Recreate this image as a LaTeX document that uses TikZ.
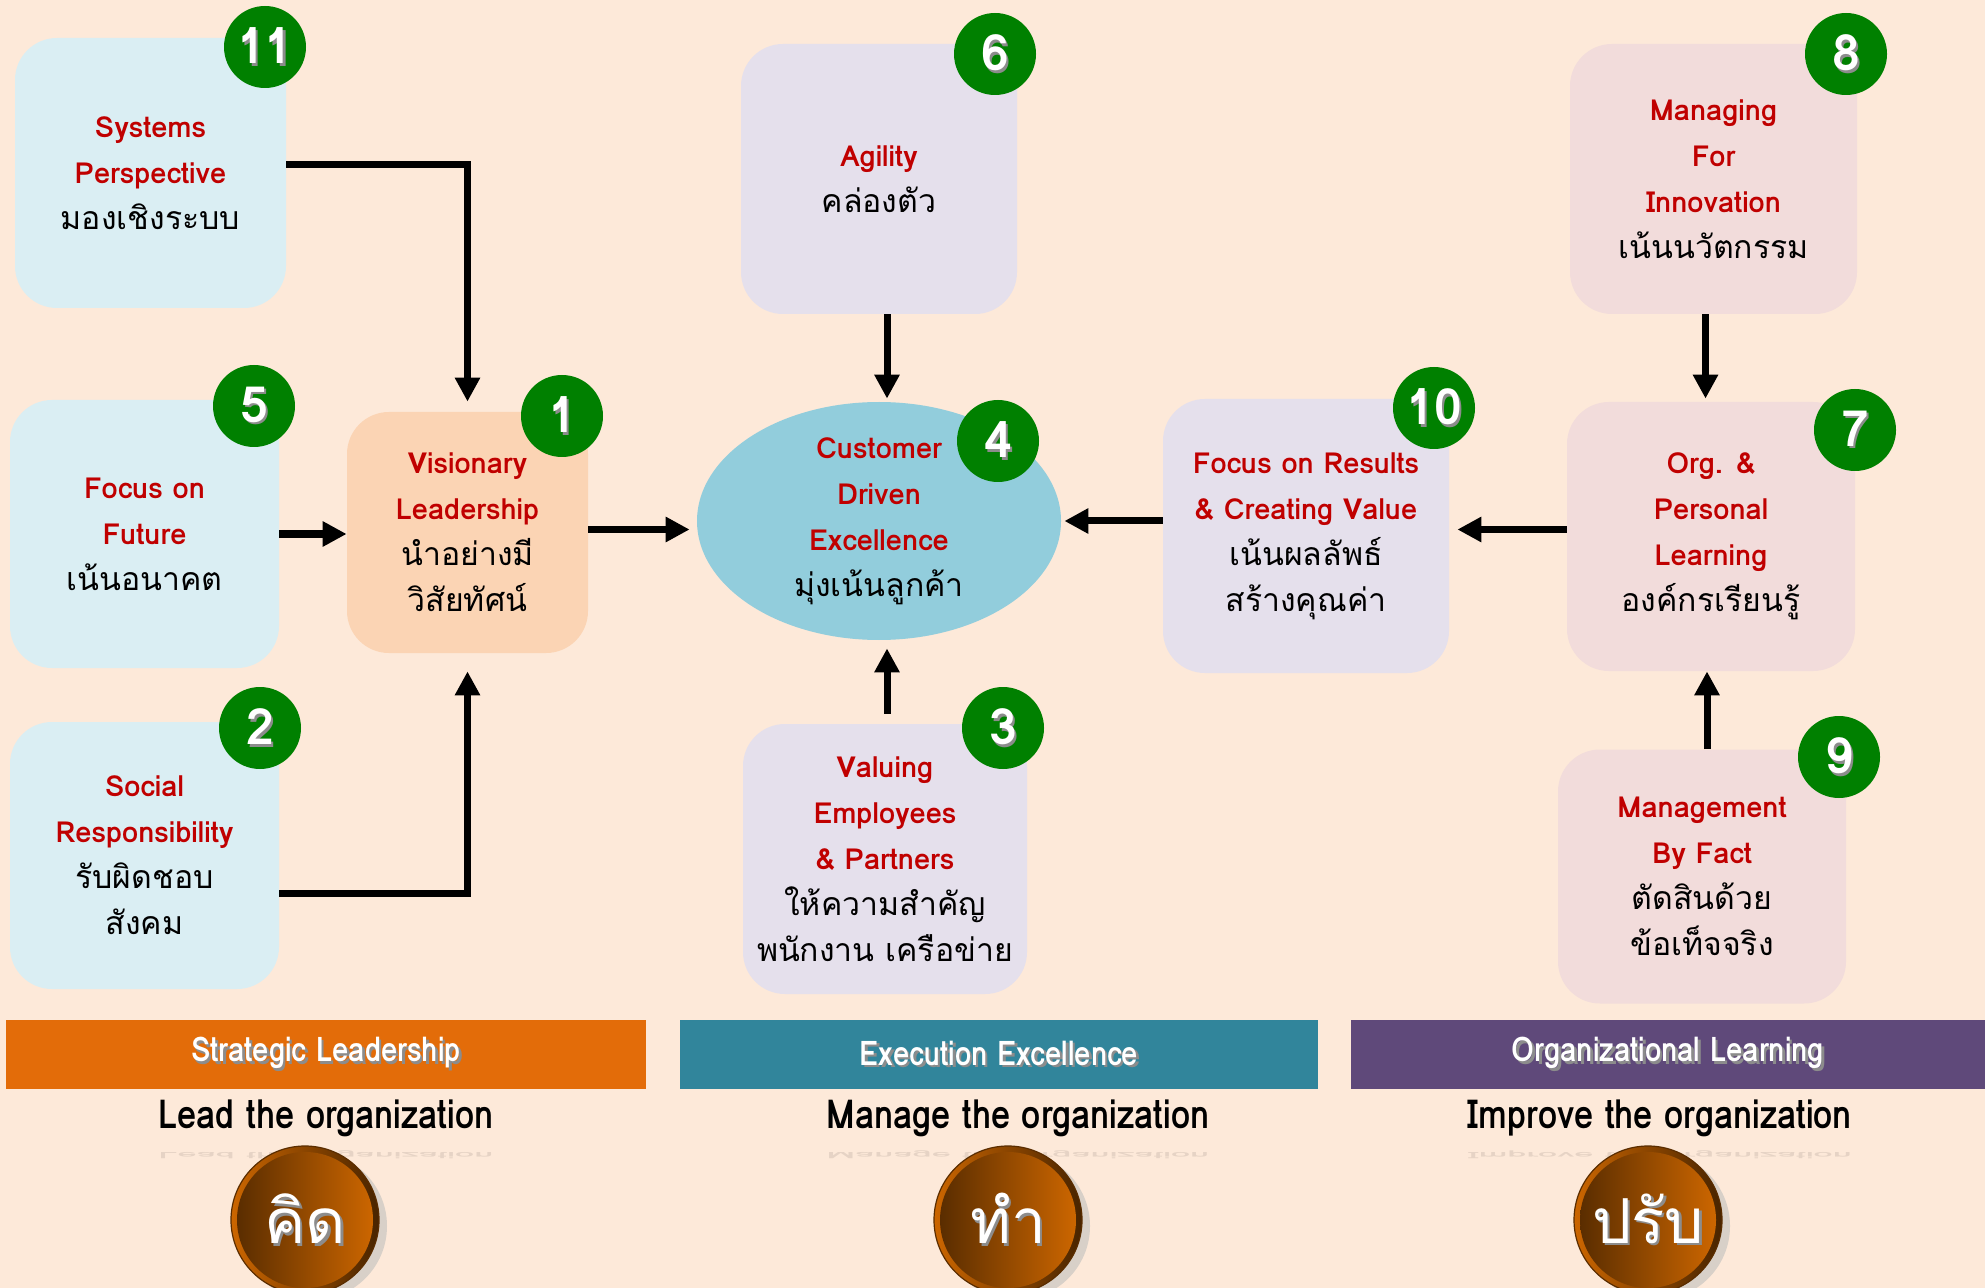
\documentclass[tikz,border=0pt]{standalone}
\usepackage{fontspec}
\setmainfont{Loma}[Script=Thai]
\newfontfamily\condf{Loma}[Script=Thai,FakeStretch=0.86]
\usetikzlibrary{arrows.meta,shapes.geometric,shadows}

\definecolor{bg}{HTML}{FDE9D9}
\definecolor{cblue}{HTML}{DAEEF3}
\definecolor{cpeach}{HTML}{FBD4B4}
\definecolor{cell}{HTML}{92CDDC}
\definecolor{clav}{HTML}{E5E0EC}
\definecolor{cpink}{HTML}{F2DCDB}
\definecolor{cgreen}{HTML}{008000}
\definecolor{cred}{HTML}{C00000}
\definecolor{barorange}{HTML}{E36C09}
\definecolor{barteal}{HTML}{31859B}
\definecolor{barpurple}{HTML}{5F497A}
\definecolor{coindark}{HTML}{5A2D00}
\definecolor{coinlight}{HTML}{CC6600}
\definecolor{coinshade}{HTML}{D8D0C8}

% red English line and black Thai line inside a box
\newcommand\en[1]{\textcolor{cred}{\bfseries #1}}
\newcommand\tha[1]{{\fontsize{16pt}{23pt}\selectfont #1}}
% text with a soft drop shadow
\newcommand\dropsh[1]{\leavevmode\rlap{\kern1.3pt\raisebox{-1.3pt}{\textcolor{black!45}{#1}}}#1}

\begin{document}
\begin{tikzpicture}[x=0.5pt,y=-0.5pt,
  box/.style={rounded corners=21pt, inner sep=0pt, align=center,
    font=\fontsize{14.5pt}{23pt}\selectfont},
  badge/.style={circle, fill=cgreen, minimum size=41pt, inner sep=0pt,
    text=white, font=\fontsize{25pt}{25pt}\selectfont\bfseries},
  arr/.style={line width=3.5pt, -{Triangle[length=12pt,width=12pt]}},
  bar/.style={minimum height=34.5pt, inner sep=0pt, text=white,
    font=\condf\fontsize{17pt}{20pt}\selectfont\bfseries},
  motto/.style={font=\condf\fontsize{20pt}{22pt}\selectfont\bfseries},
  refl/.style={font=\condf\fontsize{20pt}{22pt}\selectfont\bfseries,
    text=black, opacity=0.09, transform shape, yscale=-0.22},
  coinrim/.style={circle, minimum size=74pt, inner sep=0pt,
    left color=coinlight, right color=coindark!80!black, draw=coindark, line width=0.6pt,
    drop shadow={shadow xshift=4pt, shadow yshift=-3pt, fill=coinshade, opacity=1}},
  coin/.style={circle, minimum size=68pt, inner sep=0pt,
    left color=coindark, right color=coinlight, text=white,
    font=\fontsize{31pt}{34pt}\selectfont}
]
\fill[bg] (0,0) rectangle (1985,1288);
\useasboundingbox (0,0) rectangle (1985,1288);

% ---------- left column: strategic leadership ----------
\node[box, fill=cblue, minimum width=135.5pt, minimum height=135pt] (b11) at (150.5,173)
  {\en{Systems}\\\en{Perspective}\\\tha{มองเชิงระบบ}};
\node[box, fill=cblue, minimum width=134.5pt, minimum height=134pt] (b5) at (144.5,534)
  {\en{Focus on}\\\en{Future}\\\tha{เน้นอนาคต}};
\node[box, fill=cblue, minimum width=134.5pt, minimum height=133.5pt] (b2) at (144.5,855.5)
  {\en{Social}\\\en{Responsibility}\\\tha{รับผิดชอบ}\\\tha{สังคม}};
\node[box, fill=cpeach, minimum width=120.5pt, minimum height=120.5pt] (b1) at (467.5,532.5)
  {\en{Visionary}\\\en{Leadership}\\\tha{นำอย่างมี}\\\tha{วิสัยทัศน์}};

% ---------- centre column: execution ----------
\node[ellipse, fill=cell, minimum width=182pt, minimum height=119pt, inner sep=0pt,
  align=center, font=\fontsize{14.5pt}{23pt}\selectfont] (e4) at (879,521)
  {\en{Customer}\\\en{Driven}\\\en{Excellence}\\\tha{มุ่งเน้นลูกค้า}};
\node[box, fill=clav, minimum width=138pt, minimum height=135pt] (b6) at (879,179)
  {\en{Agility}\\\tha{คล่องตัว}};
\node[box, fill=clav, minimum width=142pt, minimum height=135pt] (b3) at (885,859)
  {\en{Valuing}\\\en{Employees}\\\en{\& Partners}\\\tha{ให้ความสำคัญ}\\\tha{พนักงาน เครือข่าย}};
\node[box, fill=clav, minimum width=143pt, minimum height=137pt] (b10) at (1306,536)
  {\en{Focus on Results}\\\en{\& Creating Value}\\\tha{เน้นผลลัพธ์}\\\tha{สร้างคุณค่า}};

% ---------- right column: learning ----------
\node[box, fill=cpink, minimum width=143.5pt, minimum height=135pt] (b8) at (1713.5,179)
  {\en{Managing}\\\en{For}\\\en{Innovation}\\\tha{เน้นนวัตกรรม}};
\node[box, fill=cpink, minimum width=144pt, minimum height=134.5pt] (b7) at (1711,536.5)
  {\en{Org. \&}\\\en{Personal}\\\en{Learning}\\\tha{องค์กรเรียนรู้}};
\node[box, fill=cpink, minimum width=144pt, minimum height=127pt] (b9) at (1702,876.5)
  {\en{Management}\\\en{By Fact}\\\tha{ตัดสินด้วย}\\\tha{ข้อเท็จจริง}};

% ---------- numbered badges ----------
\node[badge] (n11) at (265,47)   {\dropsh{11}};
\node[badge] (n5)  at (254,406)  {\dropsh{5}};
\node[badge] (n2)  at (260,728)  {\dropsh{2}};
\node[badge] (n1)  at (562,416)  {\dropsh{1}};
\node[badge] (n4)  at (998,441)  {\dropsh{4}};
\node[badge] (n6)  at (995,54)   {\dropsh{6}};
\node[badge] (n3)  at (1003,728) {\dropsh{3}};
\node[badge] (n10) at (1434,408) {\dropsh{10}};
\node[badge] (n8)  at (1846,54)  {\dropsh{8}};
\node[badge] (n7)  at (1855,430) {\dropsh{7}};
\node[badge] (n9)  at (1839,757) {\dropsh{9}};

% ---------- connectors ----------
\draw[arr, shorten >=5pt] ([yshift=4pt]b11.east) -| (b1.north);
\draw[arr] (b5.east) -- (b5.east -| b1.west);
\draw[arr, shorten >=9pt] ([yshift=-19pt]b2.east) -| (b1.south);
\draw[arr, shorten >=3.5pt] ([yshift=1.5pt]b1.east) -- ([yshift=1.5pt]b1.east -| e4.west);
\draw[arr, shorten >=1.5pt] ([xshift=4pt]b6.south) -- ([xshift=4pt]b6.south |- e4.north);
\draw[arr, shorten <=5pt, shorten >=4pt] ([xshift=1pt]b3.north) -- ([xshift=1pt]b3.north |- e4.south);
\draw[arr, shorten >=1.5pt] (b10.west |- e4.east) -- (e4.east);
\draw[arr, shorten >=4pt] ([yshift=3.5pt]b7.west) -- ([yshift=3.5pt]b7.west -| b10.east);
\draw[arr, shorten >=1.5pt] ([xshift=-4pt]b8.south) -- ([xshift=-4pt]b8.south |- b7.north);
\draw[arr] ([xshift=2.5pt]b9.north) -- ([xshift=2.5pt]b9.north |- b7.south);

% ---------- category bars ----------
\node[bar, fill=barorange, minimum width=320pt] (barA) at (326,1054.5) {\dropsh{Strategic Leadership}};
\node[bar, fill=barteal, minimum width=319pt] (barB) at (999,1054.5) {\dropsh{Execution Excellence}};
\node[bar, fill=barpurple, minimum width=317pt] (barC) at (1668,1054.5) {\dropsh{Organizational Learning}};

\node[motto] (mA) at (326,1118) {Lead the organization};
\node[motto] (mB) at (1018,1118) {Manage the organization};
\node[motto] (mC) at (1660,1118) {Improve the organization};
\node[refl] (rA) at (326,1155) {Lead the organization};
\node[refl] (rB) at (1018,1155) {Manage the organization};
\node[refl] (rC) at (1660,1155) {Improve the organization};

% ---------- coins ----------
\node[coinrim] (cA) at (305,1220) {};
\node[coin] (kA) at (cA) {\dropsh{คิด}};
\node[coinrim] (cB) at (1008,1220) {};
\node[coin] (kB) at (cB) {\dropsh{ทำ}};
\node[coinrim] (cC) at (1648,1220) {};
\node[coin] (kC) at (cC) {\dropsh{ปรับ}};
\end{tikzpicture}
\end{document}
